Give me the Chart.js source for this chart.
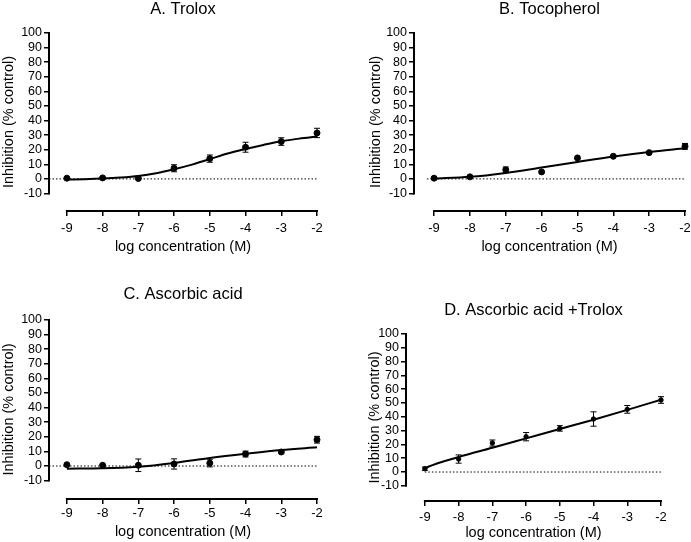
<!DOCTYPE html>
<html lang="en">
<head>
<meta charset="UTF-8">
<title>Inhibition curves</title>
<script src="https://cdn.jsdelivr.net/npm/chart.js@4.4.0/dist/chart.umd.min.js"></script>
<style>
  body { margin: 0; background: #fff; }
  #wrap { position: relative; width: 691px; height: 542px; }
  canvas { position: absolute; }
</style>
</head>
<body>
<div id="wrap">
  <canvas id="cA" width="345" height="271" style="left:0;top:0"></canvas>
  <canvas id="cB" width="346" height="271" style="left:345px;top:0"></canvas>
  <canvas id="cC" width="345" height="271" style="left:0;top:271px"></canvas>
  <canvas id="cD" width="346" height="271" style="left:345px;top:271px"></canvas>
</div>
<script>
// log concentration (M) for the measured points
const logConc = [-9, -8, -7, -6, -5, -4, -3, -2];
const xTickValues = [-9, -8, -7, -6, -5, -4, -3, -2];
const yTickValues = [100, 90, 80, 70, 60, 50, 40, 30, 20, 10, 0, -10];

// A. Trolox
const troloxMean = [0.5, 0.7, 0.3, 7.3, 13.9, 21.7, 25.6, 31.5];
const troloxSem  = [0, 0, 0, 2.4, 2.5, 3.4, 2.6, 3.2];
const troloxFitX = [-9, -8.5, -8, -7.5, -7, -6.5, -6, -5.5, -5, -4.5, -4, -3.5, -3, -2.5, -2];
const troloxFitY = [-0.4, -0.2, 0.2, 0.9, 2.0, 3.9, 6.6, 9.8, 13.5, 17.4, 20.5, 23.3, 25.8, 27.6, 29.0];

// B. Tocopherol
const tocoMean = [0.5, 1.4, 6.2, 4.8, 14.4, 15.5, 18.0, 22.3];
const tocoSem  = [0, 0, 2.0, 0, 0, 0, 0, 2.0];
const tocoFitX = [-9, -8, -7, -6, -5, -4, -3, -2];
const tocoFitY = [0.2, 1.4, 4.1, 7.8, 11.6, 15.3, 18.5, 21.0];

// C. Ascorbic acid
const ascMean = [0.9, 0.5, 0.5, 1.4, 2.0, 8.2, 9.6, 18.0];
const ascSem  = [0, 0, 4.3, 3.5, 2.6, 2.0, 0.8, 2.3];
const ascFitX = [-9, -8, -7, -6, -5, -4, -3, -2];
const ascFitY = [-1.8, -1.6, -0.5, 2.1, 5.5, 8.4, 11.0, 12.8];

// D. Ascorbic acid + Trolox
const comboMean = [2.4, 9.4, 21.0, 25.6, 31.6, 38.4, 45.4, 52.2];
const comboSem  = [1.2, 3.0, 2.2, 3.0, 2.0, 5.2, 2.8, 2.4];
const comboFitX = [-9, -8.9, -8, -7, -6, -5, -4, -3, -2];
const comboFitY = [2.4, 3.8, 10.9, 17.6, 24.4, 31.2, 37.9, 45.0, 52.4];

const FONT = "'Liberation Sans', Arial, sans-serif";

// draws SEM bars for datasets that carry an "errors" array
const errorBars = {
  id: 'errorBars',
  afterDatasetsDraw(chart) {
    const ctx = chart.ctx, xs = chart.scales.x, ys = chart.scales.y;
    chart.data.datasets.forEach(ds => {
      if (!ds.errors) return;
      ctx.save();
      ctx.strokeStyle = '#000';
      ctx.lineWidth = 1;
      ds.data.forEach((p, i) => {
        const e = ds.errors[i];
        if (!e) return;
        const px = xs.getPixelForValue(p.x);
        const top = ys.getPixelForValue(p.y + e);
        const bot = ys.getPixelForValue(p.y - e);
        ctx.beginPath();
        ctx.moveTo(px, top); ctx.lineTo(px, bot);
        ctx.moveTo(px - 3, top); ctx.lineTo(px + 3, top);
        ctx.moveTo(px - 3, bot); ctx.lineTo(px + 3, bot);
        ctx.stroke();
      });
      ctx.restore();
    });
  }
};

// prism-style detached axes: y from -10 to 100, x from -9 to -2
const axisLines = {
  id: 'axisLines',
  afterDraw(chart) {
    const { ctx, chartArea, scales: { x, y } } = chart;
    ctx.save();
    ctx.strokeStyle = '#000';
    ctx.lineWidth = 2;
    ctx.beginPath();
    ctx.moveTo(chartArea.left, y.getPixelForValue(yTickValues[0]) - 1);
    ctx.lineTo(chartArea.left, y.getPixelForValue(yTickValues[yTickValues.length - 1]) + 1);
    ctx.moveTo(x.getPixelForValue(xTickValues[0]) - 1, chartArea.bottom);
    ctx.lineTo(x.getPixelForValue(xTickValues[xTickValues.length - 1]) + 1, chartArea.bottom);
    ctx.stroke();
    ctx.restore();
  }
};

const panels = [
  { id: 'cA', title: 'A. Trolox', mean: troloxMean, sem: troloxSem, fitX: troloxFitX, fitY: troloxFitY,
    w: 345, h: 271, left: 49, top: 33, right: 317, bottom: 211, xMin: -9.5, yMin: -22, zeroFrom: -9.5,
    titleTop: 0, tickPad: 5, xTitlePad: 15.6, yTitlePad: 0.3, radius: 3 },
  { id: 'cB', title: 'B. Tocopherol', mean: tocoMean, sem: tocoSem, fitX: tocoFitX, fitY: tocoFitY,
    w: 346, h: 271, left: 69, top: 33, right: 340, bottom: 211, xMin: -9.56, yMin: -22, zeroFrom: -9.2,
    titleTop: 0, tickPad: 5, xTitlePad: 15.6, yTitlePad: 22.3, radius: 3 },
  { id: 'cC', title: 'C. Ascorbic acid', mean: ascMean, sem: ascSem, fitX: ascFitX, fitY: ascFitY,
    w: 345, h: 271, left: 49, top: 49, right: 317, bottom: 228, xMin: -9.5, yMin: -22.6, zeroFrom: -9.5,
    titleTop: 13.4, tickPad: 2, xTitlePad: 1, yTitlePad: 0.3, radius: 3 },
  { id: 'cD', title: 'D. Ascorbic acid +Trolox', mean: comboMean, sem: comboSem, fitX: comboFitX, fitY: comboFitY,
    w: 346, h: 271, left: 61, top: 63, right: 316, bottom: 230, xMin: -9.56, yMin: -21, zeroFrom: -9,
    titleTop: 29.4, tickPad: 4, xTitlePad: 0, yTitlePad: 21.3, radius: 2.2 }
];

panels.forEach(p => {
  const titleLine = 16.5 * 1.2;
  new Chart(document.getElementById(p.id), {
    type: 'scatter',
    data: {
      datasets: [
        {
          type: 'line',
          data: [{ x: p.zeroFrom, y: 0 }, { x: -2, y: 0 }],
          borderColor: '#000', borderWidth: 1, borderDash: [1.5, 2],
          pointRadius: 0, clip: false
        },
        {
          type: 'line',
          data: p.fitX.map((x, i) => ({ x: x, y: p.fitY[i] })),
          borderColor: '#000', borderWidth: 2,
          cubicInterpolationMode: 'monotone',
          pointRadius: 0, clip: false
        },
        {
          data: logConc.map((x, i) => ({ x: x, y: p.mean[i] })),
          errors: p.sem,
          backgroundColor: '#000', borderColor: '#000',
          pointRadius: p.radius, clip: false
        }
      ]
    },
    options: {
      responsive: false,
      animation: false,
      layout: { padding: { left: 0, top: 0, right: p.w - p.right, bottom: 0 } },
      plugins: {
        legend: { display: false },
        tooltip: { enabled: false },
        title: {
          display: true, text: p.title, color: '#000', fullSize: false,
          font: { family: FONT, size: 16.5, weight: 'normal' },
          padding: { top: p.titleTop, bottom: p.top - p.titleTop - titleLine }
        }
      },
      scales: {
        x: {
          type: 'linear', min: p.xMin, max: -2,
          afterBuildTicks: s => { s.ticks = xTickValues.map(v => ({ value: v })); },
          afterFit: s => { s.height = p.h - p.bottom; s.paddingLeft = 0; s.paddingRight = 0; },
          grid: { drawOnChartArea: false, drawTicks: true, tickLength: 5, color: '#000', lineWidth: 1.5 },
          border: { display: false },
          ticks: { color: '#000', padding: p.tickPad, autoSkip: false, font: { family: FONT, size: 13 }, maxRotation: 0 },
          title: { display: true, text: 'log concentration (M)', color: '#000',
                   font: { family: FONT, size: 14.5 }, padding: { top: 0, bottom: p.xTitlePad } }
        },
        y: {
          type: 'linear', min: p.yMin, max: 100,
          afterBuildTicks: s => { s.ticks = yTickValues.map(v => ({ value: v })); },
          afterFit: s => { s.width = p.left; s.paddingTop = 0; s.paddingBottom = 0; },
          grid: { drawOnChartArea: false, drawTicks: true, tickLength: 5, color: '#000', lineWidth: 1.5 },
          border: { display: false },
          ticks: { color: '#000', padding: 2, autoSkip: false, font: { family: FONT, size: 12.5 } },
          title: { display: true, text: 'Inhibition (% control)', color: '#000',
                   font: { family: FONT, size: 14.5 }, padding: { top: p.yTitlePad, bottom: 0 } }
        }
      }
    },
    plugins: [errorBars, axisLines]
  });
});
</script>
</body>
</html>
